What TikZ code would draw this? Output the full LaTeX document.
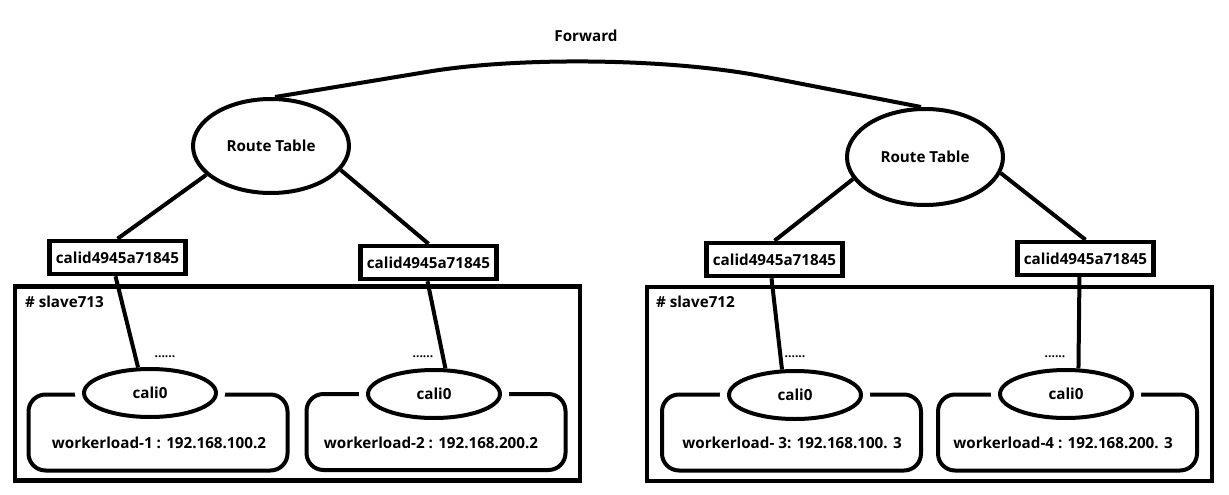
\documentclass[tikz,border=0pt]{standalone}
\usepackage{fontspec}
\setmainfont{Open Sans}
\usetikzlibrary{shapes.geometric}
\begin{document}
\begin{tikzpicture}[x=1pt,y=-1pt, line width=4pt,
  font=\bfseries\fontsize{15.2}{18}\selectfont,
  rtable/.style={ellipse,draw,minimum width=156pt,minimum height=94pt,inner sep=0pt},
  calibox/.style={draw,line width=4.5pt,minimum width=136pt,minimum height=33pt,inner sep=0pt},
  hostbox/.style={draw,line width=4.5pt,minimum width=565pt,minimum height=194pt,inner sep=0pt},
  wlbox/.style={draw,rounded corners=17pt,minimum width=259pt,minimum height=76pt,inner sep=0pt},
  caliell/.style={ellipse,draw,fill=white,minimum width=132pt,minimum height=48pt,inner sep=0pt,
    preaction={draw=white,line width=18pt}},
  dots/.style={font=\bfseries\fontsize{12}{12}\selectfont,inner sep=0pt},
  txt/.style={inner sep=0pt}]
\useasboundingbox (0,0) rectangle (1229,495);

% host boxes
\node[hostbox] (h1) at (297.5,383.5) {};
\node[hostbox] (h2) at (929.5,384) {};
\node[txt,anchor=west] (h1t) at (23,302) {\# slave713};
\node[txt,anchor=west] (h2t) at (654,302) {\# slave712};

% workload boxes
\node[wlbox] (wl1) at (158,432.5) {};
\node[wlbox] (wl2) at (436,432) {};
\node[wlbox] (wl3) at (791.5,432.5) {};
\node[wlbox] (wl4) at (1067.5,432.5) {};

% cali0 ellipses
\node[caliell] (e1) at (150,393) {cali0};
\node[caliell] (e2) at (434,394) {cali0};
\node[caliell] (e3) at (795,395) {cali0};
\node[caliell] (e4) at (1066,394) {cali0};

\node[txt] (t1) at (159,443) {workerload-1 : 192.168.100.2};
\node[txt] (t2) at (431,443) {workerload-2 : 192.168.200.2};
\node[txt] (t3) at (792,443) {workerload- 3: 192.168.100. 3};
\node[txt] (t4) at (1063,443) {workerload-4 : 192.168.200. 3};

\node[dots] (d1) at (165,357) {......};
\node[dots] (d2) at (423,357) {......};
\node[dots] (d3) at (795,357) {......};
\node[dots] (d4) at (1055,357) {......};

% calid boxes
\node[calibox] (c1) at (117.5,257.5) {calid4945a71845};
\node[calibox] (c2) at (428.5,262.5) {calid4945a71845};
\node[calibox] (c3) at (774.5,259.5) {calid4945a71845};
\node[calibox] (c4) at (1085.5,258.5) {calid4945a71845};

% route tables
\node[rtable] (rt1) at (271,146) {Route Table};
\node[rtable,minimum height=96pt] (rt2) at (925,157) {Route Table};

\node[txt] (fw) at (586,36) {Forward};

% connectors
\draw[rounded corners=170pt] ([xshift=4pt]rt1.north) -- (596,44) -- ([xshift=-4pt]rt2.north);
\draw (rt1.204) -- (c1.north);
\draw (rt1.341) -- (c2.north);
\draw (rt2.197) -- (c3.north);
\draw (rt2.348) -- (c4.north);

\draw ([xshift=-2pt]c1.south) -- (e1.115);
\draw ([xshift=-1pt]c2.south) -- (e2.66);
\draw ([xshift=-3pt]c3.south) -- (e3.117);
\draw ([xshift=-6pt,yshift=4pt]c4.south) -- (e4.64);
\end{tikzpicture}
\end{document}
